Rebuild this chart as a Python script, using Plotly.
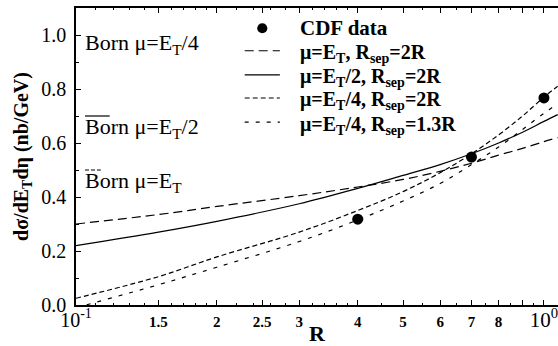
import plotly.graph_objects as go

# Jet cone size R and NLO predictions of the inclusive jet cross section
r_grid = [0.1, 0.15, 0.2, 0.3, 0.4, 0.5, 0.6, 0.7, 0.8, 0.9, 1.0, 1.07]
mu1_rsep2 = [0.30, 0.335, 0.365, 0.405, 0.437, 0.465, 0.495, 0.525, 0.555, 0.58, 0.605, 0.62]
mu2_rsep2 = [0.22, 0.27, 0.31, 0.375, 0.432, 0.48, 0.52, 0.56, 0.60, 0.64, 0.68, 0.705]
mu4_rsep2 = [0.025, 0.105, 0.178, 0.27, 0.35, 0.42, 0.49, 0.56, 0.63, 0.70, 0.77, 0.81]
mu4_rsep13 = [-0.01, 0.075, 0.14, 0.235, 0.315, 0.385, 0.45, 0.52, 0.585, 0.65, 0.71, 0.745]

# CDF measurements
cdf_r = [0.4, 0.7, 1.0]
cdf_val = [0.318, 0.548, 0.767]

# Born-level values (marked at the left edge)
born_mu2 = 0.70
born_mu1 = 0.50

x_tickvals = [0.1, 0.15, 0.2, 0.25, 0.3, 0.4, 0.5, 0.6, 0.7, 0.8, 0.9, 1.0]
x_ticktext = ['<span style="font-size:20px;font-weight:normal">10<sup>-1</sup></span>', "1.5", "2", "2.5", "3",
              "4", "5", "6", "7", "8", "",
              '<span style="font-size:21px;font-weight:normal">10<sup>0</sup></span>']
x_minor = [0.11, 0.12, 0.13, 0.14, 0.16, 0.17, 0.18, 0.19, 0.22, 0.24, 0.26, 0.28,
           0.32, 0.34, 0.36, 0.38, 0.45, 0.55, 0.65, 0.75, 0.85, 0.95]
y_tickvals = [0.0, 0.2, 0.4, 0.6, 0.8, 1.0]
y_ticktext = ["0.0", "0.2", "0.4", "0.6", "0.8", "1.0"]

FONT = "Times New Roman, Liberation Serif, DejaVu Serif, serif"
fig = go.Figure()

fig.add_trace(go.Scatter(x=cdf_r, y=cdf_val, mode="markers", showlegend=False,
                         marker=dict(color="black", size=11)))
curves = [
    (mu1_rsep2, "μ=E<sub>T</sub>, R<sub>sep</sub>=2R", "9px,5px"),
    (mu2_rsep2, "μ=E<sub>T</sub>/2, R<sub>sep</sub>=2R", "solid"),
    (mu4_rsep2, "μ=E<sub>T</sub>/4, R<sub>sep</sub>=2R", "5px,3px"),
    (mu4_rsep13, "μ=E<sub>T</sub>/4, R<sub>sep</sub>=1.3R", "4px,7px"),
]
for vals, label, dash in curves:
    fig.add_trace(go.Scatter(x=r_grid, y=vals, mode="lines", showlegend=False,
                             line=dict(color="black", width=1.2, dash=dash, shape="spline")))

# short marks for the Born values
fig.add_trace(go.Scatter(x=[0.1045, 0.118], y=[born_mu2, born_mu2], mode="lines",
                         showlegend=False, line=dict(color="black", width=1.2)))
fig.add_trace(go.Scatter(x=[0.1045, 0.113], y=[born_mu1, born_mu1], mode="lines",
                         showlegend=False, line=dict(color="black", width=1.2, dash="4px,2px")))

born_labels = [(0.965, "Born μ=E<sub>T</sub>/4"), (0.655, "Born μ=E<sub>T</sub>/2"),
               (0.455, "Born μ=E<sub>T</sub>")]
for yv, txt in born_labels:
    fig.add_annotation(x=-0.985, y=yv, xref="x", yref="y", text=txt, showarrow=False,
                       xanchor="left", yanchor="middle",
                       font=dict(family=FONT, size=22, color="black"))

# legend key, laid out in the top-right corner of the plot area
key_x0, key_x1, text_x = 0.350, 0.423, 0.461
row_y = [0.932, 0.846, 0.765, 0.687, 0.606]
fig.add_shape(type="circle", xref="paper", yref="paper",
              x0=0.376, x1=0.397, y0=row_y[0] - 0.017, y1=row_y[0] + 0.017,
              fillcolor="black", line=dict(color="black", width=0))
fig.add_annotation(x=text_x, y=row_y[0], xref="paper", yref="paper", text="<b>CDF data</b>",
                   showarrow=False, xanchor="left", yanchor="middle",
                   font=dict(family=FONT, size=21, color="black"))
for (vals, label, dash), yk in zip(curves, row_y[1:]):
    fig.add_shape(type="line", xref="paper", yref="paper", x0=key_x0, x1=key_x1,
                  y0=yk + 0.01, y1=yk + 0.01, line=dict(color="black", width=1.2, dash=dash))
    fig.add_annotation(x=text_x, y=yk, xref="paper", yref="paper", text=f"<b>{label}</b>",
                       showarrow=False, xanchor="left", yanchor="middle",
                       font=dict(family=FONT, size=20, color="black"))

fig.update_layout(
    width=558, height=346,
    margin=dict(l=76, r=0, t=8, b=41),
    paper_bgcolor="white", plot_bgcolor="white",
    font=dict(family=FONT, color="black"),
    showlegend=False,
    xaxis=dict(type="log", range=[-1, 0.03],
               tickvals=x_tickvals, ticktext=x_ticktext, ticklabeloverflow="allow",
               ticklabelstandoff=2,
               ticks="inside", ticklen=5, tickwidth=1, tickcolor="black",
               minor=dict(tickvals=x_minor, ticks="inside", ticklen=2, tickcolor="black"),
               showline=True, linecolor="black", linewidth=1.5, mirror="ticks",
               showgrid=False, zeroline=False,
               tickfont=dict(family=FONT, size=15, color="black", weight="bold"),
               title=dict(text="<b>R</b>", font=dict(family=FONT, size=22), standoff=0)),
    yaxis=dict(range=[0, 1.1],
               tickvals=y_tickvals, ticktext=y_ticktext, ticklabelstandoff=4,
               ticks="inside", ticklen=5, tickwidth=1, tickcolor="black",
               minor=dict(dtick=0.1, ticks="inside", ticklen=3, tickcolor="black"),
               showline=True, linecolor="black", linewidth=1.5,
               showgrid=False, zeroline=False,
               tickfont=dict(family=FONT, size=20, color="black"),
               title=dict(text="<b>dσ/dE<sub>T</sub>dη (nb/GeV)</b>",
                          font=dict(family=FONT, size=20), standoff=7)),
)

fig.write_html("out.html")
